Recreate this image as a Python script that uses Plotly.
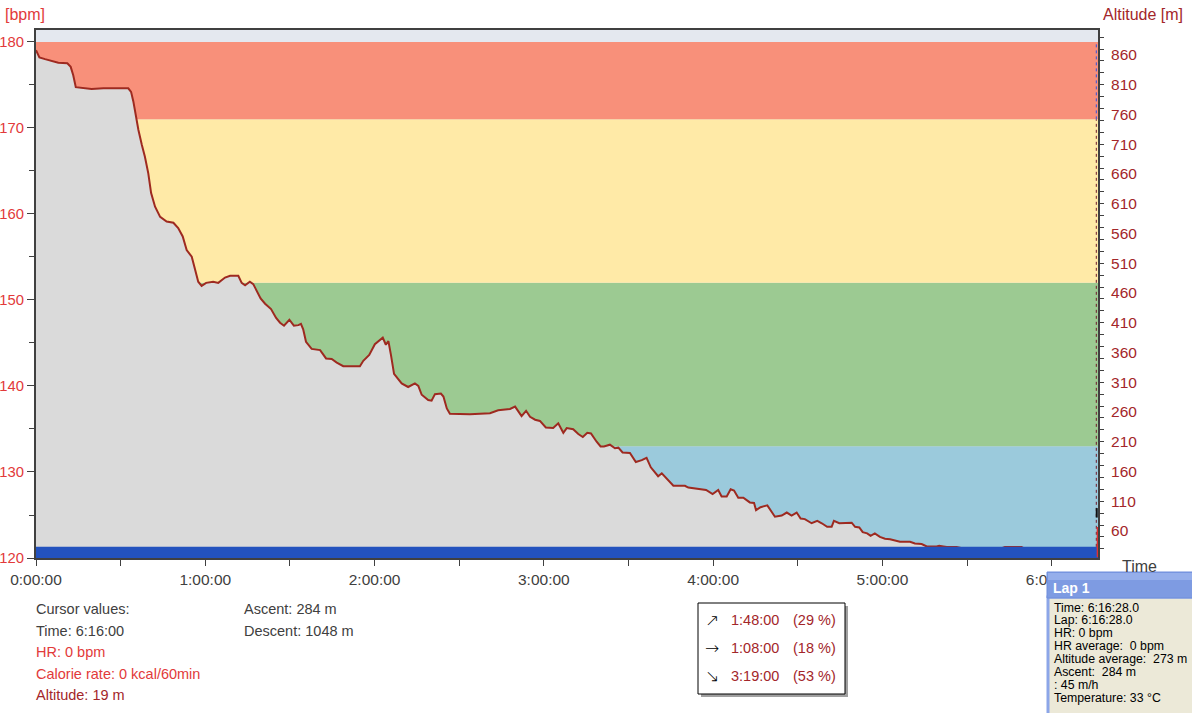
import plotly.graph_objects as go

# ---------------- data ----------------
time_min = [0, 1.2, 3.2, 6.1, 7.9, 11.1, 12.3, 13.2, 14.1, 19.7, 23.9, 32.7, 33.7, 34.5, 35.4, 36.3,
            37.5, 38.6, 39.8, 40.8, 42.2, 44.0, 46.3, 48.7, 50.4, 52.0, 53.4, 55.2, 56.4, 57.5, 58.7,
            60.3, 62.8, 64.6, 67.0, 68.8, 71.7, 72.9, 74.1, 75.8, 77.0, 78.2, 79.6, 81.2, 83.3, 85.1,
            86.5, 87.9, 89.8, 91.4, 93.0, 93.9, 94.7, 95.7, 97.7, 100.7, 102.8, 104.8, 106.6, 108.9,
            114.8, 116.0, 118.1, 120.1, 122.9, 124.0, 124.9, 125.8, 126.9, 129.6, 131.9, 134.3, 135.5,
            136.7, 139.0, 140.2, 141.4, 143.5, 144.4, 145.6, 146.7, 153.8, 156.2, 160.9, 163.8, 168.0,
            169.8, 172.1, 173.7, 175.1, 176.9, 178.6, 180.7, 182.4, 183.3, 185.1, 186.9, 188.1, 190.4,
            192.2, 193.8, 195.4, 196.7, 198.7, 200.1, 201.3, 203.4, 205.2, 206.4, 207.9, 210.5, 212.6,
            214.7, 216.4, 217.9, 220.5, 221.8, 225.9, 230.0, 231.2, 235.3, 237.5, 239.8, 241.8, 243.0,
            244.8, 246.2, 247.4, 248.9, 250.7, 253.0, 254.5, 255.2, 256.8, 259.2, 260.1, 261.9, 264.3,
            266.1, 267.8, 269.6, 271.0, 272.5, 274.9, 276.9, 278.5, 280.4, 282.0, 282.8, 284.7, 289.1,
            290.3, 291.8, 293.0, 294.6, 295.8, 297.3, 299.1, 300.9, 302.7, 306.2, 309.8, 311.5, 313.9,
            315.7, 319.2, 320.1, 321.6, 322.8, 326.3, 331.0, 341.6, 343.4, 349.3, 352.3, 376.0]
altitude_m = [868, 856, 853, 850, 847, 846, 840, 826, 806, 803, 804, 804, 798, 782, 754, 734,
              709, 689, 661, 628, 605, 588, 580, 578, 569, 555, 532, 521, 499, 479, 472,
              477, 479, 477, 486, 489, 489, 477, 473, 479, 475, 465, 451, 442, 433, 418,
              410, 405, 415, 405, 406, 408, 399, 378, 366, 364, 350, 349, 343, 337,
              337, 346, 356, 374, 385, 373, 379, 356, 324, 308, 302, 308, 304,
              289, 280, 279, 290, 291, 286, 266, 257, 256, 257, 258, 263, 265,
              269, 253, 262, 252, 247, 245, 234, 234, 233, 241, 225, 233, 231,
              223, 218, 225, 224, 210, 202, 202, 205, 199, 200, 192, 191, 176,
              179, 183, 167, 152, 157, 136, 136, 133, 131, 129, 122, 129, 118,
              118, 130, 128, 116, 116, 108, 107, 95, 100, 103, 97, 84, 86,
              91, 86, 91, 81, 80, 73, 77, 73, 67, 67, 77, 73, 74,
              67, 66, 58, 56, 52, 56, 50, 47, 46, 42, 42, 39, 38,
              34, 34, 35, 34, 33, 33, 28, 30, 33, 33, 25, 19]

zone_low = [120, 133, 152, 171]
zone_high = [133, 152, 171, 180]
zone_colors = ["#9BCADC", "#9CCA92", "#FFEAA7", "#F8907A"]

hr_ticks = [120, 130, 140, 150, 160, 170, 180]
hr_minor = [125, 135, 145, 155, 165, 175]
alt_ticks = list(range(60, 861, 50))
alt_minor = list(range(30, 891, 20))
x_ticks = [0, 60, 120, 180, 240, 300, 360]
x_ticklabels = ["0:00:00", "1:00:00", "2:00:00", "3:00:00", "4:00:00", "5:00:00", "6:00:00"]
x_minor = [30, 90, 150, 210, 270, 330]

cursor_time = 375.8
total_time = 376.4
hr_range = [120, 181.39]
alt_range = [14.6, 902.0]
marker_band = [120, 121.3]

cursor_lines = [("Cursor values:", "#404040"), ("Time: 6:16:00", "#404040"),
                ("HR: 0 bpm", "#E23A3A"), ("Calorie rate: 0 kcal/60min", "#E23A3A"),
                ("Altitude: 19 m", "#A3262A")]
summary_lines = ["Ascent: 284 m", "Descent: 1048 m"]
slope_arrows = ["↗", "→", "↘"]
slope_times = ["1:48:00", "1:08:00", "3:19:00"]
slope_pcts = ["(29 %)", "(18 %)", "(53 %)"]
lap_lines = ["Time: 6:16:28.0", "Lap: 6:16:28.0", "HR: 0 bpm", "HR average:  0 bpm",
             "Altitude average:  273 m", "Ascent:  284 m", ": 45 m/h", "Temperature: 33 °C"]

# ---------------- geometry helpers (pixels -> paper) ----------------
PL, PR, PT, PB = 36, 1098, 30, 558
def px(x):
    return (x - PL) / (PR - PL)
def py(y):
    return (PB - y) / (PB - PT)

FONT = "Liberation Sans, Arial, sans-serif"

fig = go.Figure()
fig.add_trace(go.Scatter(x=time_min, y=altitude_m, yaxis="y2", mode="lines",
                         line=dict(color="#9E2A20", width=2), fill="tozeroy",
                         fillcolor="#DADADA", hoverinfo="skip", showlegend=False))
fig.add_trace(go.Scatter(x=[None], y=[None], yaxis="y3", showlegend=False, hoverinfo="skip"))

shapes = []
for lo, hi, c in zip(zone_low, zone_high, zone_colors):
    shapes.append(dict(type="rect", xref="paper", yref="y", x0=0, x1=1, y0=lo, y1=hi,
                       fillcolor=c, line=dict(width=0), layer="below"))
# bottom marker band
shapes.append(dict(type="rect", xref="paper", yref="y", x0=0, x1=1, y0=marker_band[0],
                   y1=marker_band[1], fillcolor="#2352BE", line=dict(width=0), layer="above"))
# cursor lines
shapes.append(dict(type="line", xref="x", yref="y", x0=cursor_time, x1=cursor_time, y0=171, y1=180,
                   line=dict(color="#3050E0", width=1, dash="3px,3px"), layer="above"))
shapes.append(dict(type="line", xref="x", yref="y", x0=cursor_time, x1=cursor_time, y0=121.3, y1=171,
                   line=dict(color="#6E1A2A", width=1, dash="3px,3px"), layer="above"))
shapes.append(dict(type="line", xref="x", yref="y", x0=total_time - 0.2, x1=total_time - 0.2,
                   y0=120.1, y1=123.6, line=dict(color="#E03030", width=1.5), layer="above"))
shapes.append(dict(type="rect", xref="x", yref="y", x0=cursor_time - 0.2, x1=cursor_time + 0.5,
                   y0=124.7, y1=125.8, fillcolor="#111111", line=dict(width=0), layer="above"))
# slope box (shadow + box)
shapes.append(dict(type="rect", xref="paper", yref="paper", x0=px(701), x1=px(848), y0=py(697), y1=py(606),
                   fillcolor="#A0A0A0", line=dict(width=0)))
shapes.append(dict(type="rect", xref="paper", yref="paper", x0=px(698), x1=px(845), y0=py(694), y1=py(603),
                   fillcolor="#FFFFFF", line=dict(color="#000000", width=1)))
# lap box
shapes.append(dict(type="rect", xref="paper", yref="paper", x0=px(1048), x1=px(1200), y0=py(720), y1=py(597),
                   fillcolor="#ECE9D8", line=dict(color="#8CA6E8", width=3)))
shapes.append(dict(type="rect", xref="paper", yref="paper", x0=px(1047), x1=px(1200), y0=py(598), y1=py(572),
                   fillcolor="#7E9BE2", line=dict(color="#6F8DDC", width=1)))
shapes.append(dict(type="rect", xref="paper", yref="paper", x0=px(1048), x1=px(1200), y0=py(580), y1=py(573),
                   fillcolor="#95AEEB", line=dict(width=0)))

ann = []
def text(s, x, y, color="#404040", size=14.5, anchor="left", bold=False, family=FONT):
    ann.append(dict(text=("<b>%s</b>" % s) if bold else s, x=px(x), y=py(y), xref="paper", yref="paper",
                    xanchor=anchor, yanchor="middle", showarrow=False, borderpad=0,
                    font=dict(family=family, size=size, color=color)))

text("[bpm]", 4, 14, "#E23A3A", 16)
text("Altitude [m]", 1184, 14, "#A3262A", 16, anchor="right")
text("Time", 1121, 566, "#404040", 16)
for i, (s, c) in enumerate(cursor_lines):
    text(s, 35, 609 + i * 21.6, c)
for i, s in enumerate(summary_lines):
    text(s, 243, 609 + i * 21.6, "#404040")
for i in range(3):
    yy = 620 + i * 27.8
    text(slope_arrows[i], 712, yy, "#000000", 17, anchor="center", family="DejaVu Sans Light, DejaVu Sans")
    text(slope_times[i], 730, yy, "#A3262A")
    text(slope_pcts[i], 792, yy, "#A3262A")
text("Lap 1", 1052, 588, "#FFFFFF", 14, bold=True)
for i, s in enumerate(lap_lines):
    text(s, 1053, 607.5 + i * 12.95, "#000000", 12.3)

fig.update_layout(
    width=1192, height=713,
    margin=dict(l=PL, r=1192 - PR, t=PT, b=713 - PB, autoexpand=False),
    paper_bgcolor="#FFFFFF", plot_bgcolor="#E4E8EF",
    font=dict(family=FONT, color="#404040"),
    shapes=shapes, annotations=ann,
    xaxis=dict(range=[0, total_time], tickvals=x_ticks, ticktext=x_ticklabels, ticks="outside",
               ticklen=6, tickwidth=1, tickcolor="#404040", showline=True, linewidth=2,
               linecolor="#404040", mirror=True, showgrid=False, zeroline=False,
               tickfont=dict(size=15.5, color="#404040", family=FONT),
               minor=dict(tickvals=x_minor, ticks="outside", ticklen=6, tickcolor="#404040")),
    yaxis=dict(range=hr_range, tickvals=hr_ticks, ticks="outside", ticklen=7, tickcolor="#404040",
               showline=True, linewidth=2, linecolor="#404040", mirror=True, showgrid=False,
               zeroline=False, tickfont=dict(size=14.8, color="#E23A3A", family=FONT),
               minor=dict(tickvals=hr_minor, ticks="outside", ticklen=5, tickcolor="#404040")),
    yaxis2=dict(range=alt_range, overlaying="y", side="right", tickvals=alt_ticks, ticks="outside",
                ticklen=9, tickcolor="rgba(0,0,0,0)", showgrid=False, zeroline=False, showline=False,
                tickfont=dict(size=15.5, color="#A3262A", family=FONT)),
    yaxis3=dict(range=alt_range, overlaying="y", side="right", tickvals=alt_minor, ticks="outside",
                ticklen=5, tickcolor="#404040", showticklabels=False, showgrid=False,
                zeroline=False, showline=False),
)

fig.write_html("out.html", config={"displayModeBar": False},
               post_script="document.body.style.margin='0';document.body.style.overflow='hidden';")
